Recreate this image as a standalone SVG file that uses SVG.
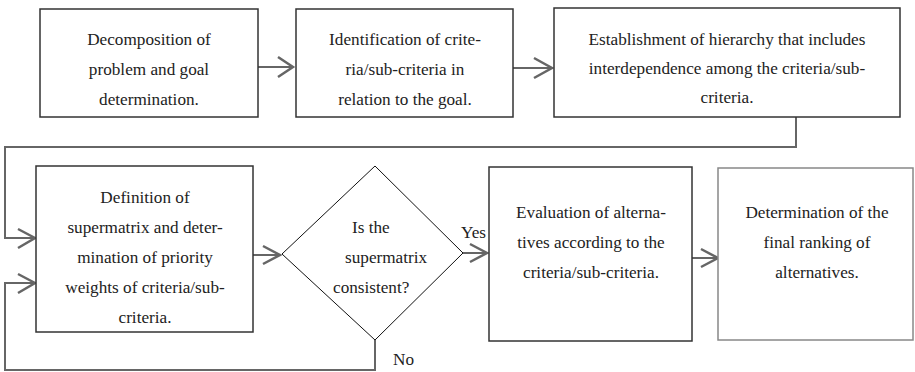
<svg xmlns="http://www.w3.org/2000/svg" width="915" height="372" viewBox="0 0 915 372">
<style>
.box{fill:#fff;stroke:#333;stroke-width:1.5}
.box6{fill:#fff;stroke:#888;stroke-width:1.5}
.dia{fill:#fff;stroke:#111;stroke-width:1}
.lbl{font-family:'Liberation Serif','Times New Roman',serif;font-size:17.2px;fill:#222}
.mid{text-anchor:middle}
.ln{fill:none;stroke:#666;stroke-width:2}
.ah{fill:none;stroke:#666;stroke-width:2.5;stroke-linejoin:miter}
</style>
<rect width="915" height="372" fill="#fff"/>
<g id="connectors">
<path class="ln" d="M258,67H292"/><path class="ah" d="M278,57L293,67L278,77"/>
<path class="ln" d="M513,68H551"/><path class="ah" d="M534,58L552,68L534,78"/>
<path class="ln" d="M796,117V147H5V238H34"/><path class="ah" d="M18,229L35,238L18,248"/>
<path class="ln" d="M375,340V370H5V283H34"/><path class="ah" d="M18,274L35,283L18,293"/>
<path class="ln" d="M253,255H279"/><path class="ah" d="M263,246L280,255L263,264"/>
<path class="ln" d="M463,253H486"/><path class="ah" d="M470,244L487,253L470,262"/>
<path class="ln" d="M692,258H717"/><path class="ah" d="M701,249L718,258L701,267"/>
<text class="lbl" x="461" y="238">Yes</text>
<text class="lbl" x="393" y="365">No</text>
</g>
<g id="n1">
<rect class="box" x="40" y="9" width="218" height="108"/>
<text class="lbl mid" x="149" y="45">Decomposition of</text>
<text class="lbl mid" x="149" y="75">problem and goal</text>
<text class="lbl mid" x="149" y="105">determination.</text>
</g>
<g id="n2">
<rect class="box" x="296" y="9" width="217" height="108"/>
<text class="lbl mid" x="405" y="45">Identification of crite-</text>
<text class="lbl mid" x="405" y="75">ria/sub-criteria in</text>
<text class="lbl mid" x="405" y="105">relation to the goal.</text>
</g>
<g id="n3">
<rect class="box" x="554" y="8" width="346" height="109"/>
<text class="lbl mid" x="727" y="45">Establishment of hierarchy that includes</text>
<text class="lbl mid" x="727" y="74">interdependence among the criteria/sub-</text>
<text class="lbl mid" x="727" y="103">criteria.</text>
</g>
<g id="n4">
<rect class="box" x="36" y="166" width="217" height="166"/>
<text class="lbl mid" x="145" y="203">Definition of</text>
<text class="lbl mid" x="145" y="233">supermatrix and deter-</text>
<text class="lbl mid" x="145" y="263">mination of priority</text>
<text class="lbl mid" x="145" y="293">weights of criteria/sub-</text>
<text class="lbl mid" x="145" y="323">criteria.</text>
</g>
<g id="n5">
<polygon class="dia" points="282,254 375,166 463,253 375,340"/>
<text class="lbl" x="352" y="233">Is the</text>
<text class="lbl" x="345" y="263">supermatrix</text>
<text class="lbl" x="333" y="293">consistent?</text>
</g>
<g id="n6">
<rect class="box" x="489" y="167" width="203" height="174"/>
<text class="lbl mid" x="591" y="218">Evaluation of alterna-</text>
<text class="lbl mid" x="591" y="248">tives according to the</text>
<text class="lbl mid" x="591" y="278">criteria/sub-criteria.</text>
</g>
<g id="n7">
<rect class="box6" x="718" y="168" width="195" height="172"/>
<text class="lbl mid" x="817" y="218">Determination of the</text>
<text class="lbl mid" x="817" y="248">final ranking of</text>
<text class="lbl mid" x="817" y="278">alternatives.</text>
</g>
</svg>
